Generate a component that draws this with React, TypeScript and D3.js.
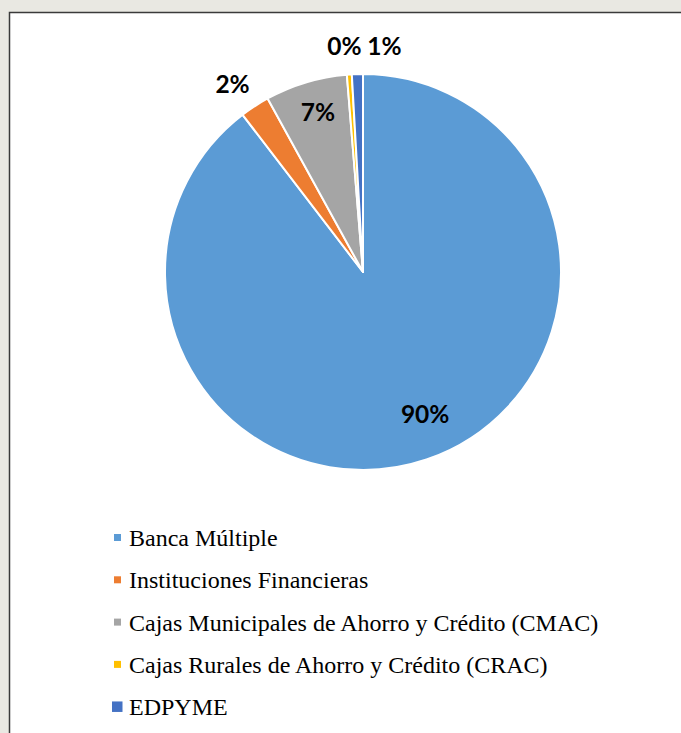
import React from "react";
import * as d3 from "d3";

const categories = [
  "Banca Múltiple",
  "Instituciones Financieras",
  "Cajas Municipales de Ahorro y Crédito (CMAC)",
  "Cajas Rurales de Ahorro y Crédito (CRAC)",
  "EDPYME",
];
const values = [89.6, 2.4, 6.7, 0.4, 0.9];
const labels = ["90%", "2%", "7%", "0%", "1%"];
const colors = ["#5B9BD5", "#ED7D31", "#A5A5A5", "#FFC000", "#4472C4"];
// label placement: radius factor and angle shift (degrees)
const labelRadius = [0.78, 1.16, 0.84, 1.15, 1.15];
const labelShift = [-5, -1.5, 1, -0.7, 7];

const W = 681;
const H = 733;

export default function App() {
  const cx = 363;
  const cy = 272;
  const R = 198;
  const pie = d3.pie<number>().sort(null).value((d) => d);
  const arcs = pie(values);
  const arcGen = d3.arc<d3.PieArcDatum<number>>().innerRadius(0).outerRadius(R);

  const legendX = 114;
  const legendY0 = 546;
  const legendStep = 42.3;

  return (
    <svg
      width={W}
      height={H}
      style={{ position: "absolute", left: 0, top: 0 }}
      xmlns="http://www.w3.org/2000/svg"
    >
      <rect x={0} y={0} width={W} height={H} fill="#e9e8e2" />
      <rect x={9.5} y={12.5} width={W} height={H} fill="#ffffff" stroke="#3a3a3a" strokeWidth={1.5} />
      <g transform={`translate(${cx},${cy})`}>
        {arcs.map((a, i) => (
          <path key={i} d={arcGen(a) || ""} fill={colors[i]} stroke="#ffffff" strokeWidth={2} strokeLinejoin="round" />
        ))}
        {arcs.map((a, i) => {
          const ang = (a.startAngle + a.endAngle) / 2 + (labelShift[i] * Math.PI) / 180;
          const r = R * labelRadius[i];
          const x = r * Math.sin(ang);
          const y = -r * Math.cos(ang);
          return (
            <text
              key={i}
              x={x}
              y={y}
              textAnchor="middle"
              dominantBaseline="central"
              style={{ fontFamily: "Lato, sans-serif", fontWeight: 700, fontSize: "24.5px" }}
              fill="#000000"
            >
              {labels[i]}
            </text>
          );
        })}
      </g>
      {categories.map((c, i) => {
        const base = legendY0 + i * legendStep;
        const big = i === categories.length - 1;
        const s = big ? 10.5 : 7;
        return (
          <g key={c}>
            <rect
              x={big ? legendX - 2 : legendX}
              y={base - 8.5 - s / 2}
              width={s}
              height={s}
              fill={colors[i]}
            />
            <text
              x={129}
              y={base}
              style={{ fontFamily: "'Liberation Serif', serif", fontSize: "24px" }}
              fill="#000000"
            >
              {c}
            </text>
          </g>
        );
      })}
    </svg>
  );
}
